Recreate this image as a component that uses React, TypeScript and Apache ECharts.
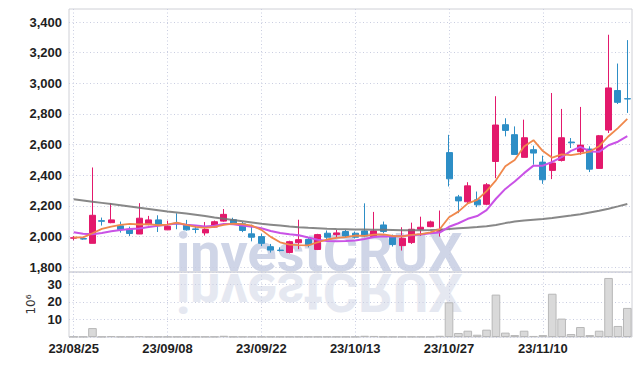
import React, { useEffect, useRef } from 'react';
import * as echarts from 'echarts';

const dates = [
  '23/08/25', '23/08/28', '23/08/29', '23/08/30', '23/08/31', '23/09/01', '23/09/04', '23/09/05', '23/09/06', '23/09/07',
  '23/09/08', '23/09/11', '23/09/12', '23/09/13', '23/09/14', '23/09/15', '23/09/18', '23/09/19', '23/09/20', '23/09/21',
  '23/09/22', '23/09/25', '23/09/26', '23/09/27', '23/10/04', '23/10/05', '23/10/06', '23/10/10', '23/10/11', '23/10/12',
  '23/10/13', '23/10/16', '23/10/17', '23/10/18', '23/10/19', '23/10/20', '23/10/23', '23/10/24', '23/10/25', '23/10/26',
  '23/10/27', '23/10/30', '23/10/31', '23/11/01', '23/11/02', '23/11/03', '23/11/06', '23/11/07', '23/11/08', '23/11/09',
  '23/11/10', '23/11/13', '23/11/14', '23/11/15', '23/11/16', '23/11/17', '23/11/20', '23/11/21', '23/11/22', '23/11/23',
];

const opens = [
  1990, 1987, 1956, 2104, 2091, 2070, 2048, 2017, 2078, 2109,
  2044, 2085, 2074, 2050, 2024, 2062, 2101, 2110, 2084, 2018,
  2000, 1934, 1912, 1896, 1960, 1982, 1916, 2022, 2013, 2033,
  2022, 2037, 2000, 2076, 2004, 1941, 1961, 2048, 2065, 2035,
  2548, 2259, 2227, 2240, 2211, 2490, 2730, 2665, 2517, 2567,
  2486, 2432, 2497, 2617, 2554, 2571, 2445, 2695, 2953, 2900,
];
const closes = [
  1992, 1984, 2139, 2100, 2109, 2046, 2020, 2120, 2109, 2076,
  2067, 2082, 2044, 2047, 2046, 2097, 2145, 2084, 2040, 1996,
  1956, 1912, 1909, 1967, 1980, 1947, 2013, 1996, 2024, 2004,
  1996, 2004, 2037, 2033, 1948, 1989, 2048, 2061, 2096, 2048,
  2377, 2233, 2331, 2207, 2338, 2728, 2693, 2536, 2645, 2545,
  2371, 2480, 2645, 2612, 2597, 2440, 2658, 2970, 2876, 2898,
];
const lows = [
  1976, 1980, 1956, 2072, 2087, 2026, 2004, 2017, 2074, 2030,
  2044, 2048, 2039, 2022, 2007, 2060, 2097, 2077, 2029, 1969,
  1938, 1896, 1903, 1890, 1918, 1930, 1912, 1985, 1996, 1996,
  1987, 1996, 1996, 2022, 1935, 1909, 1952, 2004, 2061, 2000,
  2327, 2153, 2214, 2192, 2205, 2381, 2654, 2536, 2517, 2469,
  2344, 2375, 2490, 2578, 2534, 2421, 2445, 2676, 2865, 2807,
];
const highs = [
  2004, 1990, 2451, 2124, 2218, 2098, 2065, 2218, 2135, 2139,
  2104, 2152, 2109, 2072, 2095, 2105, 2180, 2123, 2095, 2078,
  2018, 1952, 1930, 1973, 2110, 1996, 2018, 2040, 2043, 2043,
  2033, 2217, 2161, 2098, 2013, 2061, 2091, 2130, 2104, 2170,
  2664, 2272, 2355, 2294, 2349, 2916, 2772, 2719, 2763, 2593,
  2528, 2937, 2833, 2643, 2846, 2589, 2663, 3317, 3129, 3282,
];

// volume in millions
const volumes = [
  0.2, 0.2, 5.1, 0.2, 0.5, 0.2, 0.2, 0.5, 0.2, 0.2,
  0.2, 0.2, 0.2, 0.2, 0.2, 0.2, 0.7, 0.2, 0.2, 0.2,
  0.2, 0.2, 0.2, 0.2, 0.2, 0.2, 0.2, 0.2, 0.2, 0.2,
  0.2, 0.7, 0.6, 0.2, 0.2, 0.2, 0.2, 0.2, 0.2, 0.7,
  19.8, 2.3, 3.6, 1.3, 4.2, 24.2, 2.5, 1.1, 3.6, 0.6,
  1.1, 24.7, 10.5, 1.7, 5.7, 1.1, 3.6, 33.7, 6.3, 16.6,
];

const ma5 = [
  1994, 1995, 2022, 2050, 2065, 2076, 2083, 2079, 2081, 2074,
  2078, 2091, 2076, 2063, 2057, 2063, 2076, 2084, 2082, 2072,
  2044, 1998, 1963, 1948, 1945, 1943, 1963, 1981, 1992, 1997,
  2007, 2005, 2013, 2015, 2004, 2002, 2011, 2016, 2028, 2048,
  2126, 2163, 2217, 2239, 2297, 2367, 2459, 2500, 2588, 2629,
  2558, 2515, 2537, 2531, 2541, 2555, 2590, 2655, 2708, 2768,
];
const ma10 = [
  2029, 2018, 2016, 2024, 2035, 2043, 2049, 2053, 2062, 2070,
  2077, 2087, 2077, 2072, 2066, 2071, 2083, 2080, 2073, 2065,
  2054, 2037, 2023, 2015, 2009, 1994, 1980, 1972, 1970, 1971,
  1975, 1984, 1997, 2003, 2000, 2004, 2008, 2014, 2022, 2026,
  2064, 2087, 2116, 2134, 2173, 2247, 2311, 2359, 2414, 2463,
  2463, 2487, 2519, 2559, 2585, 2556, 2553, 2596, 2619, 2655,
];
const maLong = [
  2244, 2236, 2228, 2220, 2212, 2204, 2196, 2188, 2180, 2172,
  2164, 2157, 2150, 2142, 2134, 2124, 2116, 2108, 2100, 2092,
  2084, 2078, 2072, 2066, 2061, 2057, 2054, 2051, 2049, 2048,
  2047, 2046, 2045, 2044, 2043, 2042, 2042, 2042, 2043, 2045,
  2050, 2054, 2058, 2062, 2068, 2076, 2088, 2098, 2105, 2110,
  2115, 2121, 2129, 2137, 2146, 2157, 2168, 2182, 2197, 2213,
];

const priceTicks = [1800, 2000, 2200, 2400, 2600, 2800, 3000, 3200, 3400];
const priceMin = 1769;
const priceMax = 3485;
const volumeMax = 37.1;

const LABEL_FONT = "'Liberation Sans', Arial, sans-serif";
const GRID_LINE = { show: true, lineStyle: { color: '#c9cde0', width: 1, type: [1, 2.5] as any } };

export default function App() {
  const ref = useRef<HTMLDivElement>(null);

  useEffect(() => {
    const chart = echarts.init(ref.current!, undefined, { renderer: 'svg' });
    const kdata = dates.map((_, i) => [opens[i], closes[i], lows[i], highs[i]]);

    const axisLabelStyle = {
      color: '#1e1e1e',
      fontSize: 13,
      fontFamily: LABEL_FONT,
      fontWeight: 'bold' as const,
    };

    chart.setOption({
      animation: false,
      backgroundColor: '#ffffff',
      grid: [
        { left: 69, right: 10, top: 9, height: 263, show: true, borderColor: '#cfd0d6', borderWidth: 1 },
        { left: 69, right: 10, top: 272, height: 65, show: true, borderColor: '#cfd0d6', borderWidth: 1 },
      ],
      graphic: [
        {
          type: 'text',
          x: 176,
          y: 279,
          z: -1,
          silent: true,
          style: {
            text: 'investCRUX',
            font: 'bold 54px Roboto',
            fill: '#cfd5e7',
            verticalAlign: 'bottom',
          },
        },
        {
          type: 'text',
          x: 176,
          y: 265,
          scaleY: -1,
          z: -1,
          silent: true,
          style: {
            text: 'investCRUX',
            font: 'bold 54px Roboto',
            fill: '#e5e8f1',
            verticalAlign: 'bottom',
          },
        },
      ],
      xAxis: [
        {
          type: 'category',
          gridIndex: 0,
          data: dates,
          boundaryGap: true,
          axisLine: { show: false },
          axisTick: { show: false },
          axisLabel: { show: false, interval: 9 },
          splitLine: { ...GRID_LINE, interval: 9, alignWithLabel: true },
        },
        {
          type: 'category',
          gridIndex: 1,
          data: dates,
          boundaryGap: true,
          axisLine: { show: false },
          axisTick: { show: false },
          axisLabel: { ...axisLabelStyle, interval: 9, margin: 5 },
          splitLine: { ...GRID_LINE, interval: 9, alignWithLabel: true },
        },
      ],
      yAxis: [
        {
          type: 'value',
          gridIndex: 0,
          min: priceMin,
          max: priceMax,
          axisLine: { show: false },
          axisTick: { show: false, customValues: priceTicks },
          axisLabel: {
            ...axisLabelStyle,
            margin: 7,
            customValues: priceTicks,
            formatter: (v: number) => v.toLocaleString('en-US'),
          },
          splitLine: GRID_LINE,
        },
        {
          type: 'value',
          gridIndex: 1,
          min: 0,
          max: volumeMax,
          interval: 10,
          axisLine: { show: false },
          axisTick: { show: false },
          axisLabel: {
            ...axisLabelStyle,
            margin: 7,
            showMaxLabel: false,
            formatter: (v: number) => (v === 0 || v % 10 !== 0 ? '' : String(v)),
          },
          splitLine: GRID_LINE,
          name: '10⁶',
          nameLocation: 'middle',
          nameRotate: 90,
          nameGap: 32,
          nameTextStyle: {
            color: '#333',
            fontSize: 12,
            fontFamily: 'DejaVu Sans',
          },
        },
      ],
      series: [
        {
          type: 'candlestick',
          xAxisIndex: 0,
          yAxisIndex: 0,
          data: kdata,
          barWidth: 6.5,
          z: 2,
          itemStyle: {
            color: '#e3196c',
            color0: '#2d8ec6',
            borderColor: '#e3196c',
            borderColor0: '#2d8ec6',
            borderWidth: 1,
          },
        },
        {
          type: 'line',
          xAxisIndex: 0,
          yAxisIndex: 0,
          data: maLong,
          showSymbol: false,
          z: 3,
          lineStyle: { color: 'rgba(115,115,115,0.85)', width: 2 },
        },
        {
          type: 'line',
          xAxisIndex: 0,
          yAxisIndex: 0,
          data: ma10,
          showSymbol: false,
          z: 3,
          lineStyle: { color: '#c952e6', width: 2 },
        },
        {
          type: 'line',
          xAxisIndex: 0,
          yAxisIndex: 0,
          data: ma5,
          showSymbol: false,
          z: 3,
          lineStyle: { color: '#f0884c', width: 1.8 },
        },
        {
          type: 'bar',
          xAxisIndex: 1,
          yAxisIndex: 1,
          data: volumes,
          barWidth: '92%',
          z: 2,
          itemStyle: { color: '#d9d9d9', borderColor: '#b8b8b8', borderWidth: 1 },
        },
      ],
    });

    return () => chart.dispose();
  }, []);

  return <div ref={ref} style={{ position: 'absolute', left: 0, top: 0, width: 642, height: 366 }} />;
}
